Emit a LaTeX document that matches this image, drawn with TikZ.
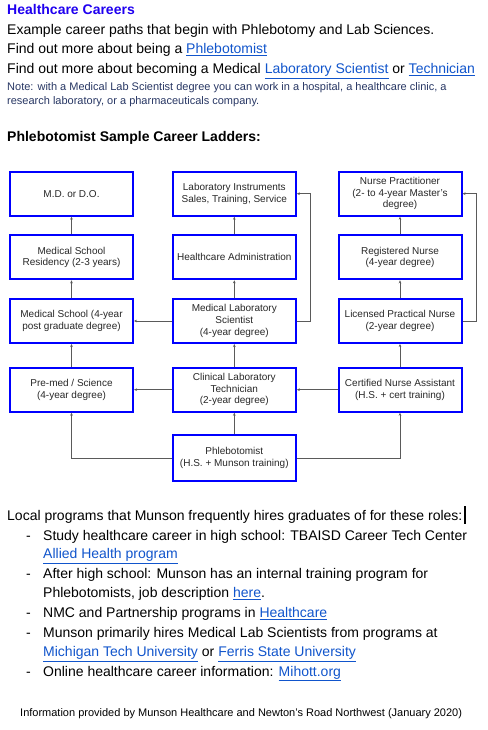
\documentclass[tikz,border=0pt]{standalone}
\usepackage{fontspec}
\setmainfont{Liberation Sans}
\usetikzlibrary{arrows.meta}
\definecolor{titleblue}{RGB}{32,0,240}
\definecolor{boxblue}{RGB}{0,0,255}
\definecolor{linkblue}{RGB}{17,85,204}
\definecolor{noteblue}{RGB}{40,55,100}
\definecolor{boxtext}{RGB}{40,40,40}
\definecolor{conncol}{RGB}{90,90,90}
\newcommand{\lnk}[1]{\textcolor{linkblue}{\underline{#1}}}
\tikzset{
  x=1pt, y=-1pt,
  txt/.style={anchor=base west, inner sep=0pt, font=\fontsize{14}{17}\selectfont},
  small/.style={anchor=base west, inner sep=0pt, font=\fontsize{11}{13}\selectfont},
  careerbox/.style={draw=boxblue, line width=2pt, fill=white, minimum width=123pt,
    minimum height=44pt, inner sep=0pt, align=center, text=boxtext,
    font=\fontsize{10}{11.7}\selectfont},
  conn/.style={draw=conncol, line width=0.7pt, -{Stealth[length=3pt,width=2.6pt]}},
}
\begin{document}
\begin{tikzpicture}
\useasboundingbox[fill=white] (0,0) rectangle (487,730);
% header texts
\node[txt, font=\fontsize{14}{17}\bfseries, text=titleblue] (title) at (7,15) {Healthcare Careers};
\node[txt] (l1) at (7,35) {Example career paths that begin with Phlebotomy and Lab Sciences.};
\node[txt] (l2) at (7,54) {Find out more about being a \lnk{Phlebotomist}};
\node[txt] (l3) at (7,74) {Find out more about becoming a Medical \lnk{Laboratory Scientist} or \lnk{Technician}};
\node[small, text=noteblue] (n1) at (7,90.7) {Note: with a Medical Lab Scientist degree you can work in a hospital, a healthcare clinic, a};
\node[small, text=noteblue] (n2) at (7,104.3) {research laboratory, or a pharmaceuticals company.};
\node[txt, font=\fontsize{14}{17}\bfseries] (ladders) at (7,142) {Phlebotomist Sample Career Ladders:};
% boxes
\node[careerbox] (md) at (71.5,193.7) {M.D. or D.O.};
\node[careerbox] (res) at (71.5,257.3) {Medical School\\Residency (2-3 years)};
\node[careerbox] (medsch) at (71.5,321) {Medical School (4-year\\post graduate degree)};
\node[careerbox] (premed) at (71.5,389.7) {Pre-med / Science\\(4-year degree)};
\node[careerbox] (labinst) at (234.3,193.7) {Laboratory Instruments\\Sales, Training, Service};
\node[careerbox] (hcadmin) at (234.3,257.3) {Healthcare Administration};
\node[careerbox] (mls) at (234.3,321) {Medical Laboratory\\Scientist\\(4-year degree)};
\node[careerbox] (clt) at (234.3,389.7) {Clinical Laboratory\\Technician\\(2-year degree)};
\node[careerbox, minimum height=46pt] (phleb) at (234.3,458) {Phlebotomist\\(H.S. + Munson training)};
\node[careerbox] (np) at (400,193.7) {Nurse Practitioner\\(2- to 4-year Master's\\degree)};
\node[careerbox] (rn) at (400,257.3) {Registered Nurse\\(4-year degree)};
\node[careerbox] (lpn) at (400,321) {Licensed Practical Nurse\\(2-year degree)};
\node[careerbox] (cna) at (400,389.7) {Certified Nurse Assistant\\(H.S. + cert training)};
% connectors
\draw[conn] (res) -- (md);
\draw[conn] (medsch) -- (res);
\draw[conn] (premed) -- (medsch);
\draw[conn] (hcadmin) -- (labinst);
\draw[conn] (mls) -- (hcadmin);
\draw[conn] (clt) -- (mls);
\draw[conn] (phleb) -- (clt);
\draw[conn] (rn) -- (np);
\draw[conn] (lpn) -- (rn);
\draw[conn] (cna) -- (lpn);
\draw[conn] (mls.west) -- (medsch.east);
\draw[conn] (clt.west) -- (premed.east);
\draw[conn] (cna.west) -- (clt.east);
\draw[conn] (phleb.west) -| (premed.south);
\draw[conn] (phleb.east) -| (cna.south);
\draw[conn] (mls.east) -- ++(13.5,0) |- (labinst.east);
\draw[conn] (lpn.east) -- ++(13.5,0) |- (np.east);
% bottom texts
\node[txt] (local) at (7,520) {Local programs that Munson frequently hires graduates of for these roles:};
\fill (local.base east) ++(1.5,-14) rectangle ++(2,18);
\node[txt] (d1) at (26,540) {-};
\node[txt] (b1) at (43,540) {Study healthcare career in high school: TBAISD Career Tech Center};
\node[txt] (b1b) at (43,558.7) {\lnk{Allied Health program}};
\node[txt] (d2) at (26,578.7) {-};
\node[txt] (b2) at (43,578.7) {After high school: Munson has an internal training program for};
\node[txt] (b2b) at (43,597.3) {Phlebotomists, job description \lnk{here}.};
\node[txt] (d3) at (26,617.3) {-};
\node[txt] (b3) at (43,617.3) {NMC and Partnership programs in \lnk{Healthcare}};
\node[txt] (d4) at (26,637.3) {-};
\node[txt] (b4) at (43,637.3) {Munson primarily hires Medical Lab Scientists from programs at};
\node[txt] (b4b) at (43,656.7) {\lnk{Michigan Tech University} or \lnk{Ferris State University}};
\node[txt] (d5) at (26,676) {-};
\node[txt] (b5) at (43,676) {Online healthcare career information: \lnk{Mihott.org}};
\node[small] (foot) at (20,716.7) {Information provided by Munson Healthcare and Newton's Road Northwest (January 2020)};
\end{tikzpicture}
\end{document}
